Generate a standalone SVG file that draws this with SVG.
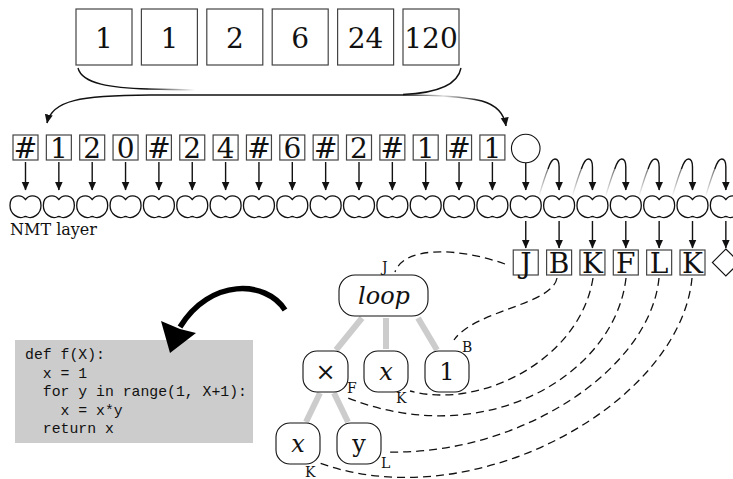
<svg xmlns="http://www.w3.org/2000/svg" xmlns:xlink="http://www.w3.org/1999/xlink" width="733" height="479" viewBox="0 0 733 479">
<style>
.box{fill:#fff;stroke:#444;stroke-width:1.2}
.big{font-family:"DejaVu Serif",serif;font-size:28px;text-anchor:middle;fill:#111}
.lbl{font-family:"DejaVu Serif",serif;font-size:14px;fill:#111}
.node{fill:#fff;stroke:#111;stroke-width:1.1}
.edge{stroke:#cccccc;stroke-width:6;fill:none}
.dash{fill:none;stroke:#111;stroke-width:1.3;stroke-dasharray:8 5}
.arr{stroke:#111;stroke-width:1.4;fill:none;marker-end:url(#ah)}
.cl{fill:#fff;stroke:#111;stroke-width:1.3}
.code{font-family:"Liberation Mono",monospace;font-size:14.8px;fill:#111}
</style>
<defs>
<marker id="ah" markerWidth="9" markerHeight="9" viewBox="0 0 9 9" refX="8.5" refY="4.5" orient="auto-start-reverse" markerUnits="userSpaceOnUse"><path d="M0,0.5 L9,4.5 L0,8.5 Z" fill="#111"/></marker>
<path id="cloud" d="M0,-7 C-4,-12.5 -15.5,-12.5 -15.5,-1 C-15.5,8 -7,12.5 -2,10.5 Q0,9.5 2,10.5 C7,12.5 15.5,8 15.5,-1 C15.5,-12.5 4,-12.5 0,-7 Z"/>
<linearGradient id="fadeL" gradientUnits="userSpaceOnUse" x1="145" y1="0" x2="195" y2="0"><stop offset="0" stop-color="#111"/><stop offset="1" stop-color="#fff"/></linearGradient>
<linearGradient id="fadeR" gradientUnits="userSpaceOnUse" x1="405" y1="0" x2="482" y2="0"><stop offset="0" stop-color="#111"/><stop offset="0.5" stop-color="#ddd"/><stop offset="1" stop-color="#111"/></linearGradient>
<linearGradient id="fadeH" gradientUnits="userSpaceOnUse" x1="0" y1="197" x2="0" y2="166"><stop offset="0" stop-color="#fff"/><stop offset="1" stop-color="#666"/></linearGradient>
</defs>

<g id="top-list">
<rect class="box" x="76" y="9" width="56" height="56"/><text class="big" x="104" y="48">1</text>
<rect class="box" x="141.4" y="9" width="56" height="56"/><text class="big" x="169.4" y="48">1</text>
<rect class="box" x="206.8" y="9" width="56" height="56"/><text class="big" x="234.8" y="48">2</text>
<rect class="box" x="272.2" y="9" width="56" height="56"/><text class="big" x="300.2" y="48">6</text>
<rect class="box" x="337.6" y="9" width="56" height="56"/><text class="big" x="365.6" y="48">24</text>
<rect class="box" x="403" y="9" width="56" height="56"/><text class="big" x="431" y="48">120</text>
</g>

<g id="brace">
<path d="M78,68 C82,84 112,88 148,89" fill="none" stroke="#111" stroke-width="1.4"/>
<path d="M148,89 C165,89.5 180,89.8 195,90" fill="none" stroke="url(#fadeL)" stroke-width="1.4"/>
<path d="M461,68 C458,84 440,93 403,94.5" fill="none" stroke="#111" stroke-width="1.4"/>
</g>

<g id="input-seq">
<rect class="box" x="13" y="135" width="25" height="25"/><text class="big" x="25.5" y="158">#</text>
<rect class="box" x="46.35" y="135" width="25" height="25"/><text class="big" x="58.85" y="158">1</text>
<rect class="box" x="79.7" y="135" width="25" height="25"/><text class="big" x="92.2" y="158">2</text>
<rect class="box" x="113.05" y="135" width="25" height="25"/><text class="big" x="125.55" y="158">0</text>
<rect class="box" x="146.4" y="135" width="25" height="25"/><text class="big" x="158.9" y="158">#</text>
<rect class="box" x="179.75" y="135" width="25" height="25"/><text class="big" x="192.25" y="158">2</text>
<rect class="box" x="213.1" y="135" width="25" height="25"/><text class="big" x="225.6" y="158">4</text>
<rect class="box" x="246.45" y="135" width="25" height="25"/><text class="big" x="258.95" y="158">#</text>
<rect class="box" x="279.8" y="135" width="25" height="25"/><text class="big" x="292.3" y="158">6</text>
<rect class="box" x="313.15" y="135" width="25" height="25"/><text class="big" x="325.65" y="158">#</text>
<rect class="box" x="346.5" y="135" width="25" height="25"/><text class="big" x="359" y="158">2</text>
<rect class="box" x="379.85" y="135" width="25" height="25"/><text class="big" x="392.35" y="158">#</text>
<rect class="box" x="413.2" y="135" width="25" height="25"/><text class="big" x="425.7" y="158">1</text>
<rect class="box" x="446.55" y="135" width="25" height="25"/><text class="big" x="459.05" y="158">#</text>
<rect class="box" x="479.9" y="135" width="25" height="25"/><text class="big" x="492.4" y="158">1</text>
<circle cx="525.75" cy="148.5" r="14.3" fill="#fff" stroke="#111" stroke-width="1.1"/>
</g>

<g id="nmt-layer">
<use href="#cloud" x="25.5" y="206.5" class="cl"/>
<use href="#cloud" x="58.85" y="206.5" class="cl"/>
<use href="#cloud" x="92.2" y="206.5" class="cl"/>
<use href="#cloud" x="125.55" y="206.5" class="cl"/>
<use href="#cloud" x="158.9" y="206.5" class="cl"/>
<use href="#cloud" x="192.25" y="206.5" class="cl"/>
<use href="#cloud" x="225.6" y="206.5" class="cl"/>
<use href="#cloud" x="258.95" y="206.5" class="cl"/>
<use href="#cloud" x="292.3" y="206.5" class="cl"/>
<use href="#cloud" x="325.65" y="206.5" class="cl"/>
<use href="#cloud" x="359" y="206.5" class="cl"/>
<use href="#cloud" x="392.35" y="206.5" class="cl"/>
<use href="#cloud" x="425.7" y="206.5" class="cl"/>
<use href="#cloud" x="459.05" y="206.5" class="cl"/>
<use href="#cloud" x="492.4" y="206.5" class="cl"/>
<use href="#cloud" x="525.75" y="206.5" class="cl"/>
<use href="#cloud" x="559.1" y="206.5" class="cl"/>
<use href="#cloud" x="592.45" y="206.5" class="cl"/>
<use href="#cloud" x="625.8" y="206.5" class="cl"/>
<use href="#cloud" x="659.15" y="206.5" class="cl"/>
<use href="#cloud" x="692.5" y="206.5" class="cl"/>
<use href="#cloud" x="725.85" y="206.5" class="cl"/>
<text x="10" y="235" font-family="DejaVu Serif, serif" font-size="16" fill="#111">NMT layer</text>
</g>

<g id="output-seq">
<rect class="box" x="513.25" y="250" width="25" height="25"/><text class="big" x="525.75" y="272.5">J</text>
<rect class="box" x="546.6" y="250" width="25" height="25"/><text class="big" x="559.1" y="272.5">B</text>
<rect class="box" x="579.95" y="250" width="25" height="25"/><text class="big" x="592.45" y="272.5">K</text>
<rect class="box" x="613.3" y="250" width="25" height="25"/><text class="big" x="625.8" y="272.5">F</text>
<rect class="box" x="646.65" y="250" width="25" height="25"/><text class="big" x="659.15" y="272.5">L</text>
<rect class="box" x="680" y="250" width="25" height="25"/><text class="big" x="692.5" y="272.5">K</text>
<polygon points="725.85,249 739.35,262.5 725.85,276 712.35,262.5" fill="#fff" stroke="#111" stroke-width="1.1"/>
</g>

<g id="tree">
<g id="edges-tree">
<line class="edge" x1="362" y1="318" x2="336" y2="350"/>
<line class="edge" x1="386" y1="318" x2="386" y2="349"/>
<line class="edge" x1="418" y1="318" x2="437" y2="350"/>
<line class="edge" x1="320" y1="393" x2="306" y2="422"/>
<line class="edge" x1="334" y1="393" x2="348" y2="422"/>
</g>
<g id="n-loop"><rect class="node" x="339" y="275" width="89" height="41" rx="16"/><text x="384" y="304" font-family="DejaVu Serif, serif" font-style="italic" font-size="24" text-anchor="middle" fill="#111">loop</text></g>
<g id="n-times"><rect class="node" x="303" y="351" width="45" height="41" rx="14"/><text x="325.5" y="380" font-family="DejaVu Serif, serif" font-size="24" text-anchor="middle" fill="#111">×</text></g>
<g id="n-x1"><rect class="node" x="364" y="351" width="44" height="41" rx="14"/><text x="386" y="380" font-family="DejaVu Serif, serif" font-style="italic" font-size="24" text-anchor="middle" fill="#111">x</text></g>
<g id="n-one"><rect class="node" x="425" y="351" width="44" height="41" rx="14"/><text x="447" y="380" font-family="DejaVu Serif, serif" font-size="24" text-anchor="middle" fill="#111">1</text></g>
<g id="n-x2"><rect class="node" x="276" y="423" width="44" height="41" rx="14"/><text x="298" y="452" font-family="DejaVu Serif, serif" font-style="italic" font-size="24" text-anchor="middle" fill="#111">x</text></g>
<g id="n-y"><rect class="node" x="337" y="423" width="44" height="41" rx="14"/><text x="359" y="452" font-family="DejaVu Serif, serif" font-size="24" text-anchor="middle" fill="#111">y</text></g>
<text class="lbl" x="382" y="272">J</text>
<text class="lbl" x="462" y="352">B</text>
<text class="lbl" x="347" y="393">F</text>
<text class="lbl" x="396" y="403">K</text>
<text class="lbl" x="381" y="468">L</text>
<text class="lbl" x="305" y="477">K</text>
</g>

<g id="code">
<rect x="15" y="340" width="238" height="103" fill="#cccccc"/>
<text class="code" xml:space="preserve"><tspan x="25" y="359">def f(X):</tspan><tspan x="25" y="377.5">  x = 1</tspan><tspan x="25" y="396">  for y in range(1, X+1):</tspan><tspan x="25" y="414.5">    x = x*y</tspan><tspan x="25" y="433">  return x</tspan></text>
</g>

<g id="connectors">
<path d="M47,123 C52,100 80,95.5 150,95 L405,95" fill="none" stroke="#111" stroke-width="1.4" marker-start="url(#ah)"/>
<path d="M405,95 C435,95 462,96.5 482,101" fill="none" stroke="url(#fadeR)" stroke-width="1.4"/>
<path class="arr" d="M482,101 C496,105 504,113 506,126"/>

<line class="arr" x1="25.5" y1="162" x2="25.5" y2="190"/>
<line class="arr" x1="58.85" y1="162" x2="58.85" y2="190"/>
<line class="arr" x1="92.2" y1="162" x2="92.2" y2="190"/>
<line class="arr" x1="125.55" y1="162" x2="125.55" y2="190"/>
<line class="arr" x1="158.9" y1="162" x2="158.9" y2="190"/>
<line class="arr" x1="192.25" y1="162" x2="192.25" y2="190"/>
<line class="arr" x1="225.6" y1="162" x2="225.6" y2="190"/>
<line class="arr" x1="258.95" y1="162" x2="258.95" y2="190"/>
<line class="arr" x1="292.3" y1="162" x2="292.3" y2="190"/>
<line class="arr" x1="325.65" y1="162" x2="325.65" y2="190"/>
<line class="arr" x1="359" y1="162" x2="359" y2="190"/>
<line class="arr" x1="392.35" y1="162" x2="392.35" y2="190"/>
<line class="arr" x1="425.7" y1="162" x2="425.7" y2="190"/>
<line class="arr" x1="459.05" y1="162" x2="459.05" y2="190"/>
<line class="arr" x1="492.4" y1="162" x2="492.4" y2="190"/>
<line class="arr" x1="525.75" y1="163" x2="525.75" y2="190"/>

<g id="hooks">
<path d="M539,196 C542,186 545,176 548,169" fill="none" stroke="url(#fadeH)" stroke-width="1.3"/>
<path class="arr" d="M548,169 C550,163 552,159 555,159 C558,159 559.1,162 559.1,167 L559.1,190"/>
<path d="M572.35,196 C575.35,186 578.35,176 581.35,169" fill="none" stroke="url(#fadeH)" stroke-width="1.3"/>
<path class="arr" d="M581.35,169 C583.35,163 585.35,159 588.35,159 C591.35,159 592.45,162 592.45,167 L592.45,190"/>
<path d="M605.7,196 C608.7,186 611.7,176 614.7,169" fill="none" stroke="url(#fadeH)" stroke-width="1.3"/>
<path class="arr" d="M614.7,169 C616.7,163 618.7,159 621.7,159 C624.7,159 625.8,162 625.8,167 L625.8,190"/>
<path d="M639.05,196 C642.05,186 645.05,176 648.05,169" fill="none" stroke="url(#fadeH)" stroke-width="1.3"/>
<path class="arr" d="M648.05,169 C650.05,163 652.05,159 655.05,159 C658.05,159 659.15,162 659.15,167 L659.15,190"/>
<path d="M672.4,196 C675.4,186 678.4,176 681.4,169" fill="none" stroke="url(#fadeH)" stroke-width="1.3"/>
<path class="arr" d="M681.4,169 C683.4,163 685.4,159 688.4,159 C691.4,159 692.5,162 692.5,167 L692.5,190"/>
<path d="M705.75,196 C708.75,186 711.75,176 714.75,169" fill="none" stroke="url(#fadeH)" stroke-width="1.3"/>
<path class="arr" d="M714.75,169 C716.75,163 718.75,159 721.75,159 C724.75,159 725.85,162 725.85,167 L725.85,190"/>
</g>

<line class="arr" x1="525.75" y1="221" x2="525.75" y2="248"/>
<line class="arr" x1="559.1" y1="221" x2="559.1" y2="248"/>
<line class="arr" x1="592.45" y1="221" x2="592.45" y2="248"/>
<line class="arr" x1="625.8" y1="221" x2="625.8" y2="248"/>
<line class="arr" x1="659.15" y1="221" x2="659.15" y2="248"/>
<line class="arr" x1="692.5" y1="221" x2="692.5" y2="248"/>
<line class="arr" x1="725.85" y1="221" x2="725.85" y2="248"/>

<path class="dash" d="M505,264 C460,248 405,245 395,272"/>
<path class="dash" d="M557,278 C552,305 475,310 454,340"/>
<path class="dash" d="M593,278 C580,360 480,410 410,391"/>
<path class="dash" d="M626,278 C615,375 485,452 348,398"/>
<path class="dash" d="M659,278 C650,370 520,455 388,452"/>
<path class="dash" d="M692,278 C680,405 470,520 317,462"/>

<path d="M285,310 C266,280 210,278 180,327" fill="none" stroke="#000" stroke-width="5.5"/>
<path d="M170,353 L161,321 L180,329 L196,333 Z" fill="#000"/>
</g>
</svg>
